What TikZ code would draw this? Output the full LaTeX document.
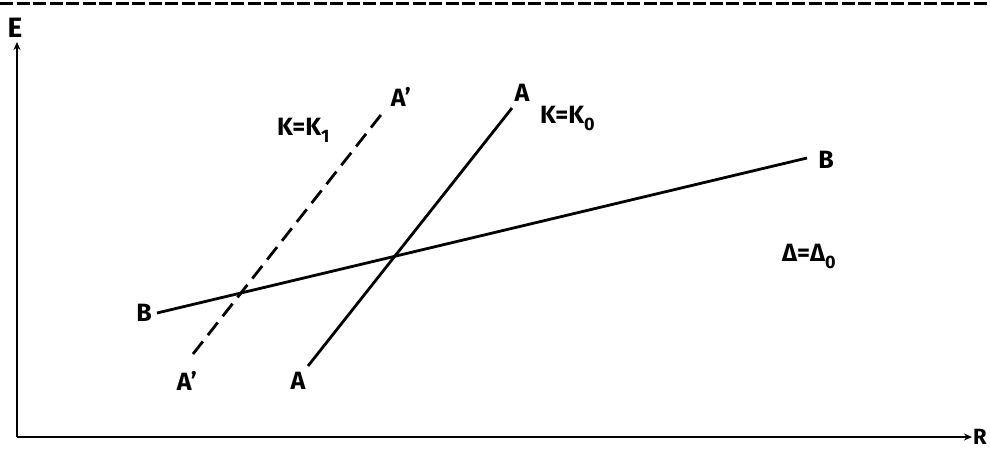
\documentclass[tikz,border=0pt]{standalone}
\usepackage{fontspec}
\setmainfont{Fira Sans}
\usetikzlibrary{arrows.meta}
\newcommand{\sbs}[1]{\raisebox{-0.28em}{\fontsize{18}{19}\selectfont #1}}
\tikzset{
  lbl/.style={font=\fontseries{sb}\fontsize{25}{28}\selectfont, inner sep=0pt},
  curve/.style={line width=2.8pt},
  axis/.style={line width=2.4pt, -{Stealth[length=8pt,width=7pt]}},
}
\begin{document}
\begin{tikzpicture}[x=1pt,y=-1pt]
\useasboundingbox (0,0) rectangle (990,453);
% top dashed rule
\draw[line width=3pt, dash pattern=on 13pt off 3.5pt] (0,3) -- (990,3);
% axes
\coordinate (O) at (17,437);
\coordinate (Etop) at (17,42);
\coordinate (Rend) at (972,437);
\draw[axis] (O) -- (Etop);
\draw[axis] (O) -- (Rend);
\node[lbl, font=\fontseries{sb}\fontsize{28}{30}\selectfont] (E) at (15,28) {E};
\node[lbl, anchor=west, font=\fontseries{sb}\fontsize{22}{24}\selectfont] (R) at (973,437) {R};
% line A
\coordinate (A1) at (308,366);
\coordinate (A2) at (512,108);
\draw[curve] (A1) -- (A2);
\node[lbl] (Atop) at (522,93) {A};
\node[lbl] (Abot) at (298,381) {A};
\node[lbl, anchor=west] (K0) at (540,118) {K=K\sbs{0}};
% line A'
\coordinate (Ap1) at (193,354);
\coordinate (Ap2) at (384,111);
\draw[curve, dash pattern=on 16pt off 8pt] (Ap1) -- (Ap2);
\node[lbl] (Aptop) at (401,97) {A’};
\node[lbl] (Apbot) at (187,381) {A’};
\node[lbl, anchor=west] (K1) at (277,130) {K=K\sbs{1}};
% line B
\coordinate (B1) at (157,313);
\coordinate (B2) at (807,158);
\draw[curve] (B1) -- (B2);
\node[lbl] (Bl) at (144,313) {B};
\node[lbl] (Br) at (826,160) {B};
% Delta label
\node[lbl, anchor=west] (D) at (782,256) {Δ=Δ\sbs{0}};
\end{tikzpicture}
\end{document}
